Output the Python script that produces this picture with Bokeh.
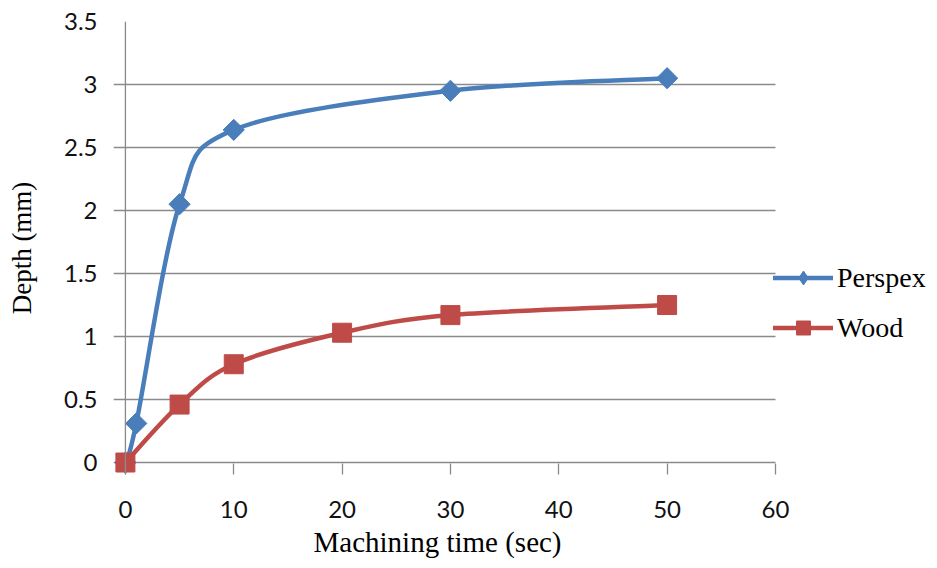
import math

from bokeh.plotting import figure
from bokeh.models import Legend, LegendItem, FixedTicker, ColumnDataSource, Span, Title
from bokeh.embed import file_html
from bokeh.resources import INLINE

# Measured depth against machining time
perspex_time = [0, 1, 5, 10, 30, 50]
perspex_depth = [0.0, 0.31, 2.05, 2.64, 2.95, 3.05]
wood_time = [0, 5, 10, 20, 30, 50]
wood_depth = [0.0, 0.46, 0.78, 1.03, 1.17, 1.25]

x_ticks = [0, 10, 20, 30, 40, 50, 60]
y_ticks = [0, 0.5, 1, 1.5, 2, 2.5, 3, 3.5]
y_tick_labels = ["0", "0.5", "1", "1.5", "2", "2.5", "3", "3.5"]
X_MIN, X_MAX = 0, 60
Y_MIN, Y_MAX = 0, 3.5

BLUE = "#4A7EBB"
RED = "#BE4B48"
GRID = "#8A8A8A"
SERIF = "Liberation Serif"
SANS = "Lato"


def smooth_segments(xs, ys, t=1.0 / 6.0):
    """Cubic Bezier pieces through the points (Catmull-Rom style smoothing)."""
    n = len(xs)
    seg = dict(x0=[], y0=[], x1=[], y1=[], cx0=[], cy0=[], cx1=[], cy1=[])
    for i in range(n - 1):
        a = max(i - 1, 0)
        b = min(i + 2, n - 1)
        seg["x0"].append(xs[i])
        seg["y0"].append(ys[i])
        seg["x1"].append(xs[i + 1])
        seg["y1"].append(ys[i + 1])
        seg["cx0"].append(xs[i] + (xs[i + 1] - xs[a]) * t)
        seg["cy0"].append(ys[i] + (ys[i + 1] - ys[a]) * t)
        seg["cx1"].append(xs[i + 1] - (xs[b] - xs[i]) * t)
        seg["cy1"].append(ys[i + 1] - (ys[b] - ys[i]) * t)
    return ColumnDataSource(seg)


# The frame reaches a little left of and below the origin (so the markers at
# (0, 0) are drawn whole) and runs on to the right edge to hold the legend.
x_pad = -1.1
y_pad = -0.095
p = figure(
    width=937, height=568,
    x_range=(x_pad, 74.96), y_range=(y_pad, Y_MAX),
    output_backend="svg", toolbar_location=None,
    min_border_left=113, min_border_right=0,
    min_border_top=21, min_border_bottom=94,
)
p.outline_line_color = None
p.background_fill_color = "white"
p.border_fill_color = "white"

# axes
p.xaxis.ticker = FixedTicker(ticks=x_ticks)
p.yaxis.ticker = FixedTicker(ticks=y_ticks)
p.yaxis.major_label_overrides = {float(v): s for v, s in zip(y_ticks, y_tick_labels)}
p.xaxis.bounds = (X_MIN, X_MAX)
for ax in (p.xaxis[0], p.yaxis[0]):
    ax.axis_line_color = None
    ax.major_tick_line_color = GRID
    ax.major_tick_line_width = 1.3
    ax.minor_tick_line_color = None
    ax.major_label_text_font = SANS
    ax.major_label_text_font_size = "24px"
    ax.major_label_text_color = "#111111"
    ax.axis_label_text_font = SERIF
    ax.axis_label_text_font_size = "27px"
    ax.axis_label_text_font_style = "normal"
    ax.axis_label_text_color = "black"

# x ticks hang down from the zero line to the frame edge
p.xaxis.major_tick_out = 0
p.xaxis.major_tick_in = 11
p.yaxis.major_tick_out = 0
p.yaxis.major_tick_in = 0
p.yaxis.major_tick_line_color = None
p.yaxis.axis_label = "Depth (mm)"
p.xaxis.major_label_standoff = 26
p.yaxis.major_label_standoff = 16
p.yaxis.axis_label_standoff = 24

# x axis title, set under the 0-60 span of the axis
p.add_layout(Title(text="Machining time (sec)", align="left", offset=200, standoff=6,
                   text_font=SERIF, text_font_size="29px", text_font_style="normal",
                   text_color="black"), "below")

p.xgrid.grid_line_color = None
p.ygrid.grid_line_color = GRID
p.ygrid.grid_line_width = 1.3
p.ygrid.cross_bounds = (x_pad, X_MAX)

# vertical value axis line at x = 0
p.add_layout(Span(location=X_MIN, dimension="height", line_color=GRID, line_width=1.3))

# smoothed series lines
perspex_line = p.bezier(x0="x0", y0="y0", x1="x1", y1="y1", cx0="cx0", cy0="cy0",
                        cx1="cx1", cy1="cy1", source=smooth_segments(perspex_time, perspex_depth),
                        line_color=BLUE, line_width=4.5, line_cap="round")
wood_line = p.bezier(x0="x0", y0="y0", x1="x1", y1="y1", cx0="cx0", cy0="cy0",
                     cx1="cx1", cy1="cy1", source=smooth_segments(wood_time, wood_depth),
                     line_color=RED, line_width=4.5, line_cap="round")

# Perspex points: a turned square gives the broad diamond; the narrow
# diamond marker inside it is the one the legend shows
p.scatter(perspex_time, perspex_depth, marker="square", size=15,
          angle=math.pi / 4, fill_color=BLUE, line_color=BLUE)
perspex_pts = p.scatter(perspex_time, perspex_depth, marker="diamond", size=19,
                        fill_color=BLUE, line_color=BLUE)
wood_pts = p.scatter(wood_time, wood_depth, marker="square", size=19,
                     fill_color=RED, line_color=RED)

legend = Legend(
    items=[
        LegendItem(label="Perspex", renderers=[perspex_line, perspex_pts]),
        LegendItem(label="Wood", renderers=[wood_line, wood_pts]),
    ],
    location=(660, 129),
    orientation="vertical",
    glyph_width=60, glyph_height=35, spacing=15,
    label_standoff=4, padding=0, margin=0,
    border_line_color=None, background_fill_alpha=0,
    label_text_font=SERIF, label_text_font_size="28px", label_text_color="black",
)
p.add_layout(legend, "center")

open("out.html", "w").write(file_html(p, INLINE))
